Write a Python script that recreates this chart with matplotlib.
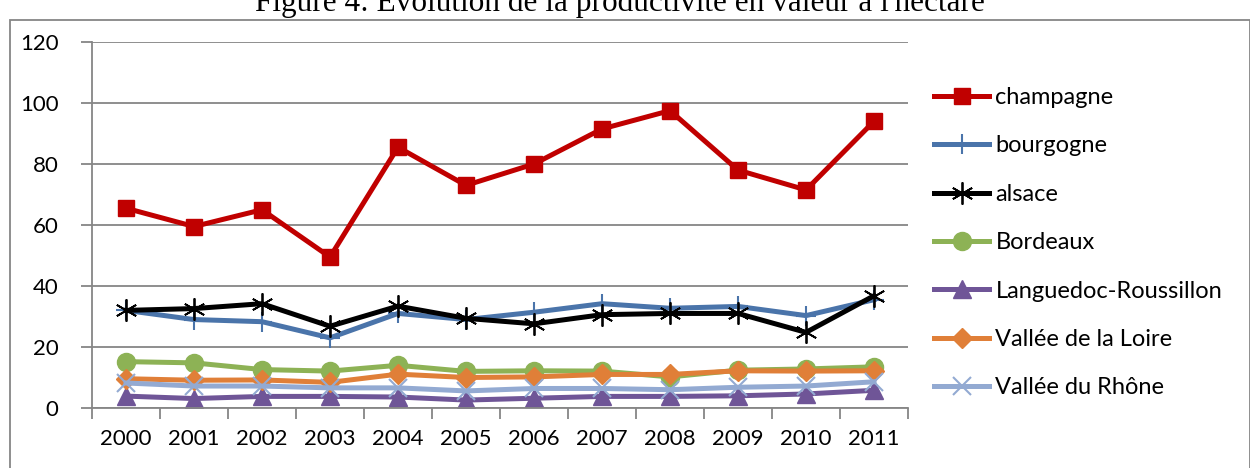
import matplotlib
matplotlib.use('Agg')
import matplotlib.pyplot as plt
from matplotlib.patches import Rectangle

# data
years = ['2000', '2001', '2002', '2003', '2004', '2005',
         '2006', '2007', '2008', '2009', '2010', '2011']
champagne = [65.5, 59.5, 65, 49.5, 85.5, 73, 80, 91.5, 97.5, 78, 71.5, 94]
bourgogne = [32, 29, 28.3, 23, 31, 29, 31.4, 34.2, 32.7, 33.3, 30.3, 35.5]
alsace = [32, 32.6, 34.2, 26.8, 33.4, 29.4, 27.6, 30.6, 31, 31, 24.8, 36.8]
bordeaux = [15.2, 14.8, 12.6, 12.1, 14, 12, 12.2, 12.1, 10.2, 12.4, 12.8, 13.5]
languedoc = [3.9, 3.1, 3.8, 3.8, 3.6, 2.6, 3.2, 3.8, 3.8, 4, 4.6, 5.8]
loire = [9.6, 9.1, 9.2, 8.4, 11.1, 10, 10.2, 11, 11, 12.2, 12.1, 12.2]
rhone = [8.2, 7.2, 7.2, 6.6, 6.6, 5.6, 6.4, 6.4, 6, 6.8, 7.2, 8.6]

series = [
    ('champagne', champagne, '#C00000', 's', 11, 1.0),
    ('bourgogne', bourgogne, '#4A74AA', '+', 14, 1.5),
    ('alsace', alsace, '#000000', (6, 2, 0), 16, 1.3),
    ('Bordeaux', bordeaux, '#8DB255', 'o', 13, 1.0),
    ('Languedoc-Roussillon', languedoc, '#6F5597', '^', 13, 1.0),
    ('Vallée de la Loire', loire, '#E07F38', 'D', 10, 1.0),
    ('Vallée du Rhône', rhone, '#93AAD2', 'x', 13, 1.5),
]

W, H = 1250, 468
fig = plt.figure(figsize=(W / 100, H / 100), dpi=100)
plt.rcParams['font.family'] = ['Lato', 'DejaVu Sans']

ax = fig.add_axes([92 / W, 1 - 408 / H, (908 - 92) / W, (408 - 42) / H])

x = list(range(len(years)))
for name, vals, color, marker, ms, mew in series:
    ax.plot(x, vals, color=color, lw=3.6, marker=marker, markersize=ms,
            markeredgewidth=mew, markeredgecolor=color, label=name,
            solid_joinstyle='miter')

grid_c = '#868686'
ax.set_ylim(0, 120)
ax.set_yticks(range(0, 121, 20))
ax.set_xlim(-0.5, len(years) - 0.5)
ax.set_xticks([i - 0.5 for i in range(len(years) + 1)])
ax.set_xticklabels([])
ax.set_xticks(x, minor=True)
ax.set_xticklabels(years, minor=True)
ax.tick_params(axis='x', which='major', length=8, width=1.3, color=grid_c, direction='out')
ax.tick_params(axis='x', which='minor', length=0, labelsize=16, pad=15)
ax.tick_params(axis='y', length=8, width=1.3, color=grid_c, labelsize=16, pad=16)
ax.grid(axis='y', color=grid_c, lw=1.3)
ax.set_axisbelow(True)
for s in ['top', 'right']:
    ax.spines[s].set_visible(False)
for s in ['left', 'bottom']:
    ax.spines[s].set_color(grid_c)
    ax.spines[s].set_linewidth(1.3)

fig.legend(loc='upper left', bbox_to_anchor=(934 / W, 1 - 87 / H), frameon=False,
           fontsize=17, labelspacing=1.16, handlelength=2.35, handletextpad=0.25,
           borderaxespad=0, borderpad=0)

fig.text(0.496, 1 - 11 / H, "Figure 4: Évolution de la productivité en valeur à l'hectare",
         ha='center', va='baseline', fontsize=22.5, family='Liberation Serif')

fig.patches.append(Rectangle((10 / W, -0.1), (1249.5 - 10) / W, 1.1 - 20 / H,
                             transform=fig.transFigure, fill=False,
                             edgecolor=grid_c, lw=1.3))

fig.savefig('out.png', dpi=100)
